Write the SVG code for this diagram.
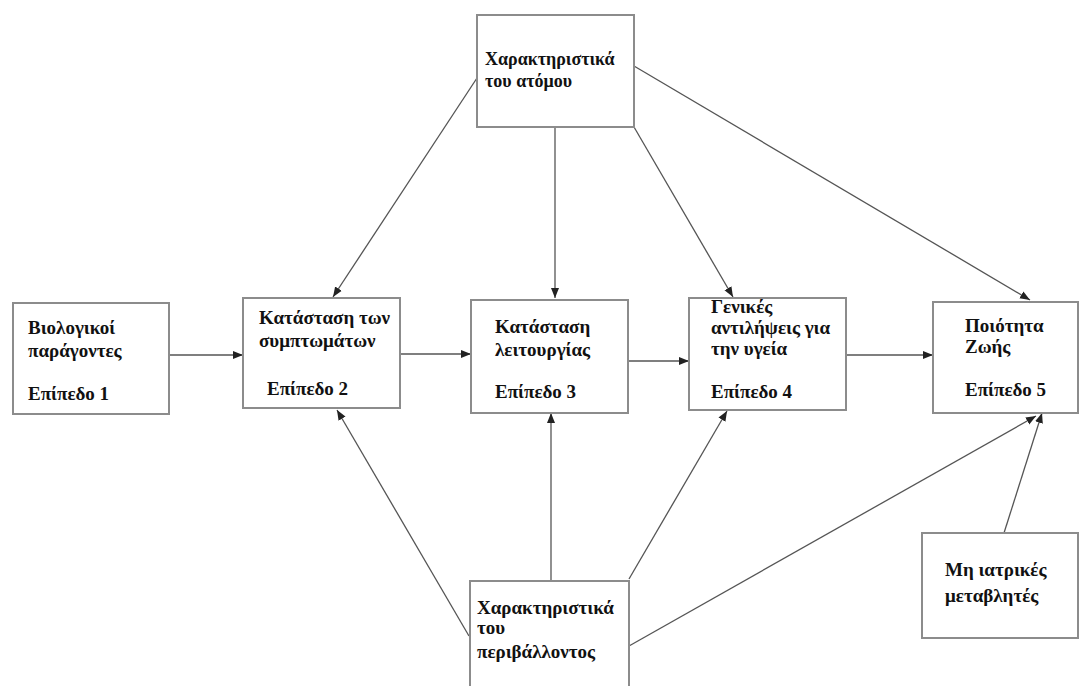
<svg xmlns="http://www.w3.org/2000/svg" width="1080" height="686" viewBox="0 0 1080 686">
<style>
.box{fill:#ffffff;stroke:#8c8c8c;stroke-width:2}
.t{font-family:"Liberation Serif","Times New Roman",serif;font-weight:bold;font-size:19px;fill:#111}
.s{font-size:18px}
.c{stroke:#555;stroke-width:1.3;fill:none;marker-end:url(#ah)}
</style>
<defs>
<marker id="ah" viewBox="0 0 10 10" refX="10" refY="5" markerWidth="10" markerHeight="10" markerUnits="userSpaceOnUse" orient="auto">
<path d="M0,1 L10,5 L0,9 z" fill="#222"/>
</marker>
</defs>
<rect width="1080" height="686" fill="#ffffff"/>
<g id="connectors">
<line class="c" x1="169" y1="355" x2="243" y2="355"/>
<line class="c" x1="400" y1="354" x2="471" y2="354"/>
<line class="c" x1="628" y1="361" x2="689" y2="361"/>
<line class="c" x1="846" y1="355" x2="933" y2="355"/>
<line class="c" x1="477" y1="78" x2="333" y2="297"/>
<line class="c" x1="555" y1="127" x2="555" y2="298"/>
<line class="c" x1="634" y1="127" x2="733" y2="297"/>
<line class="c" x1="634" y1="66" x2="1030" y2="300"/>
<line class="c" x1="469" y1="636" x2="337" y2="410"/>
<line class="c" x1="551" y1="581" x2="551" y2="413"/>
<line class="c" x1="629" y1="579" x2="727" y2="411"/>
<line class="c" x1="629" y1="646" x2="1036" y2="416"/>
<line class="c" x1="1004" y1="533" x2="1042" y2="413"/>
</g>
<g id="bio">
<rect class="box" x="13" y="303" width="156" height="111"/>
<text class="t" x="28" y="334">Βιολογικοί</text>
<text class="t" x="28" y="357">παράγοντες</text>
<text class="t" x="28" y="400">Επίπεδο 1</text>
</g>
<g id="symptoms">
<rect class="box" x="243" y="298" width="157" height="110"/>
<text class="t" x="259" y="324">Κατάσταση των</text>
<text class="t" x="259" y="347">συμπτωμάτων</text>
<text class="t" x="267" y="395">Επίπεδο 2</text>
</g>
<g id="function">
<rect class="box" x="471" y="300" width="157" height="113"/>
<text class="t" x="495" y="333">Κατάσταση</text>
<text class="t" x="495" y="356">λειτουργίας</text>
<text class="t" x="495" y="398">Επίπεδο 3</text>
</g>
<g id="health">
<rect class="box" x="689" y="298" width="157" height="112"/>
<text class="t" x="711" y="313">Γενικές</text>
<text class="t" x="711" y="334">αντιλήψεις για</text>
<text class="t" x="711" y="355">την υγεία</text>
<text class="t" x="711" y="398">Επίπεδο 4</text>
</g>
<g id="qol">
<rect class="box" x="933" y="302" width="145" height="111"/>
<text class="t" x="965" y="332">Ποιότητα</text>
<text class="t" x="965" y="353">Ζωής</text>
<text class="t" x="965" y="396">Επίπεδο 5</text>
</g>
<g id="individual">
<rect class="box" x="477" y="15" width="157" height="112"/>
<text class="t s" x="485" y="65">Χαρακτηριστικά</text>
<text class="t s" x="485" y="87">του ατόμου</text>
</g>
<g id="environment">
<rect class="box" x="470" y="581" width="159" height="110"/>
<text class="t" x="477" y="614">Χαρακτηριστικά</text>
<text class="t" x="477" y="634">του</text>
<text class="t" x="477" y="658">περιβάλλοντος</text>
</g>
<g id="nonmedical">
<rect class="box" x="922" y="533" width="156" height="105"/>
<text class="t" x="945" y="576">Μη ιατρικές</text>
<text class="t" x="945" y="602">μεταβλητές</text>
</g>
</svg>
